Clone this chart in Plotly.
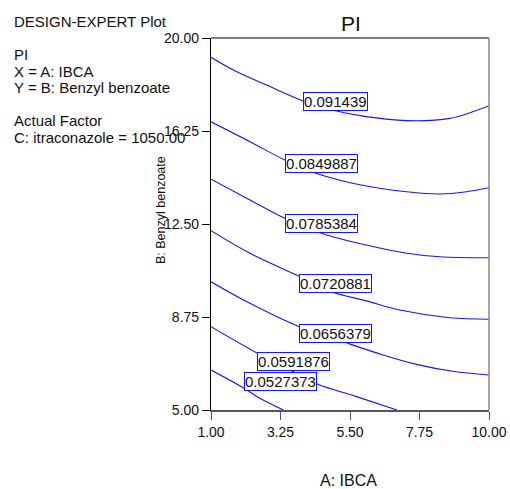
import plotly.graph_objects as go

# Contour levels of PI over A: IBCA (x) and B: Benzyl benzoate (y)
levels = ["0.091439", "0.0849887", "0.0785384", "0.0720881",
          "0.0656379", "0.0591876", "0.0527373"]

c1_x = [1.0, 1.72, 2.80, 3.98, 4.85, 6.03, 7.33, 8.73, 10.0]
c1_y = [19.22, 18.71, 18.10, 17.46, 17.12, 16.83, 16.67, 16.76, 17.27]

c2_x = [1.0, 2.26, 3.39, 4.42, 6.03, 7.33, 8.40, 9.27, 10.0]
c2_y = [16.62, 15.82, 15.08, 14.54, 14.03, 13.80, 13.71, 13.80, 13.96]

c3_x = [1.0, 2.26, 3.39, 4.47, 6.03, 7.33, 8.40, 10.0]
c3_y = [14.31, 13.47, 12.73, 12.17, 11.65, 11.32, 11.18, 11.14]

c4_x = [1.0, 2.26, 3.88, 4.90, 6.03, 7.11, 8.73, 10.0]
c4_y = [12.23, 11.32, 10.38, 9.77, 9.40, 9.03, 8.72, 8.66]

c5_x = [1.0, 2.26, 3.85, 5.28, 6.57, 7.65, 8.83, 10.0]
c5_y = [10.17, 9.30, 8.36, 7.75, 7.22, 6.84, 6.56, 6.41]

c6_x = [1.0, 2.50, 3.61, 4.44, 5.71, 7.02]
c6_y = [8.36, 7.29, 6.58, 6.05, 5.54, 5.0]

c7_x = [1.0, 2.08, 2.58, 3.34]
c7_y = [6.61, 5.87, 5.47, 5.0]

# label anchor positions (data units)
label_x = [5.03, 4.59, 4.59, 5.04, 5.03, 3.67, 3.26]
label_y = [17.43, 14.92, 12.54, 10.10, 8.10, 6.94, 6.13]

x_ticks = [1.0, 3.25, 5.5, 7.75, 10.0]
y_ticks = [5.0, 8.75, 12.5, 16.25, 20.0]

FONT = "Arial, Liberation Sans, sans-serif"
BLUE = "#1414ff"
INK = "#111111"

curves = [(c1_x, c1_y), (c2_x, c2_y), (c3_x, c3_y), (c4_x, c4_y),
          (c5_x, c5_y), (c6_x, c6_y), (c7_x, c7_y)]

W, H = 510, 489
ml, mr, mt, mb = 211, 21, 38, 79
pw, ph = W - ml - mr, H - mt - mb


def px_to_paper(px, py):
    return (px - ml) / pw, (H - mb - py) / ph


fig = go.Figure()
for (cx, cy), lev in zip(curves, levels):
    fig.add_trace(go.Scatter(
        x=cx, y=cy, mode="lines", name=lev,
        line=dict(color=BLUE, width=1.1, shape="spline", smoothing=1.0),
        hoverinfo="skip", showlegend=False))

for lx, ly, lev in zip(label_x, label_y, levels):
    fig.add_annotation(
        x=lx, y=ly, xref="x", yref="y", text=lev, showarrow=False,
        font=dict(family=FONT, size=15, color=INK),
        bgcolor="white", bordercolor=BLUE, borderwidth=1, borderpad=0)

# side panel text
side = [
    ("DESIGN-EXPERT Plot", 21),
    ("PI", 55),
    ("X = A: IBCA", 71),
    ("Y = B: Benzyl benzoate", 87),
    ("Actual Factor", 120),
    ("C: itraconazole = 1050.00", 137),
]
for txt, py in side:
    ax_, ay_ = px_to_paper(12, py)
    fig.add_annotation(
        x=ax_, y=ay_, xref="paper", yref="paper", text=txt, showarrow=False,
        xanchor="left", yanchor="middle",
        font=dict(family=FONT, size=15, color=INK))

# axis titles and chart title
tx, ty = px_to_paper(348, 480)
fig.add_annotation(x=tx, y=ty, xref="paper", yref="paper",
                   text="A: IBCA", showarrow=False, yanchor="middle",
                   font=dict(family=FONT, size=16, color=INK))
tx, ty = px_to_paper(161, 210)
fig.add_annotation(x=tx, y=ty, xref="paper", yref="paper",
                   text="B: Benzyl benzoate", showarrow=False, textangle=-90,
                   xanchor="center", yanchor="middle",
                   font=dict(family=FONT, size=12.5, color=INK))
tx, ty = px_to_paper(351, 23)
fig.add_annotation(x=tx, y=ty, xref="paper", yref="paper",
                   text="PI", showarrow=False, yanchor="middle",
                   font=dict(family=FONT, size=21, color=INK))

# frame: top (black) and right (grey)
fig.add_shape(type="line", xref="paper", yref="paper", x0=0, x1=1, y0=1, y1=1,
              line=dict(color="black", width=1.2))
fig.add_shape(type="line", xref="paper", yref="paper", x0=1, x1=1, y0=0, y1=1,
              line=dict(color="#888888", width=1.5))

fig.update_xaxes(range=[1, 10], tickvals=x_ticks, tickformat=".2f",
                 showgrid=False, zeroline=False, showline=True, automargin=False,
                 linecolor="#555555", linewidth=1.5, ticks="outside",
                 ticklen=8, tickwidth=1.2, tickcolor="#555555",
                 tickfont=dict(family=FONT, size=14, color=INK))
fig.update_yaxes(range=[5, 20], tickvals=y_ticks, tickformat=".2f",
                 showgrid=False, zeroline=False, showline=True, automargin=False,
                 linecolor="black", linewidth=1.2, ticks="outside",
                 ticklen=8, tickwidth=1.2, tickcolor="black",
                 tickfont=dict(family=FONT, size=14, color=INK))

fig.update_layout(
    width=W, height=H, autosize=False,
    margin=dict(l=ml, r=mr, t=mt, b=mb, autoexpand=False),
    paper_bgcolor="white", plot_bgcolor="white",
)

fig.write_html("out.html")
